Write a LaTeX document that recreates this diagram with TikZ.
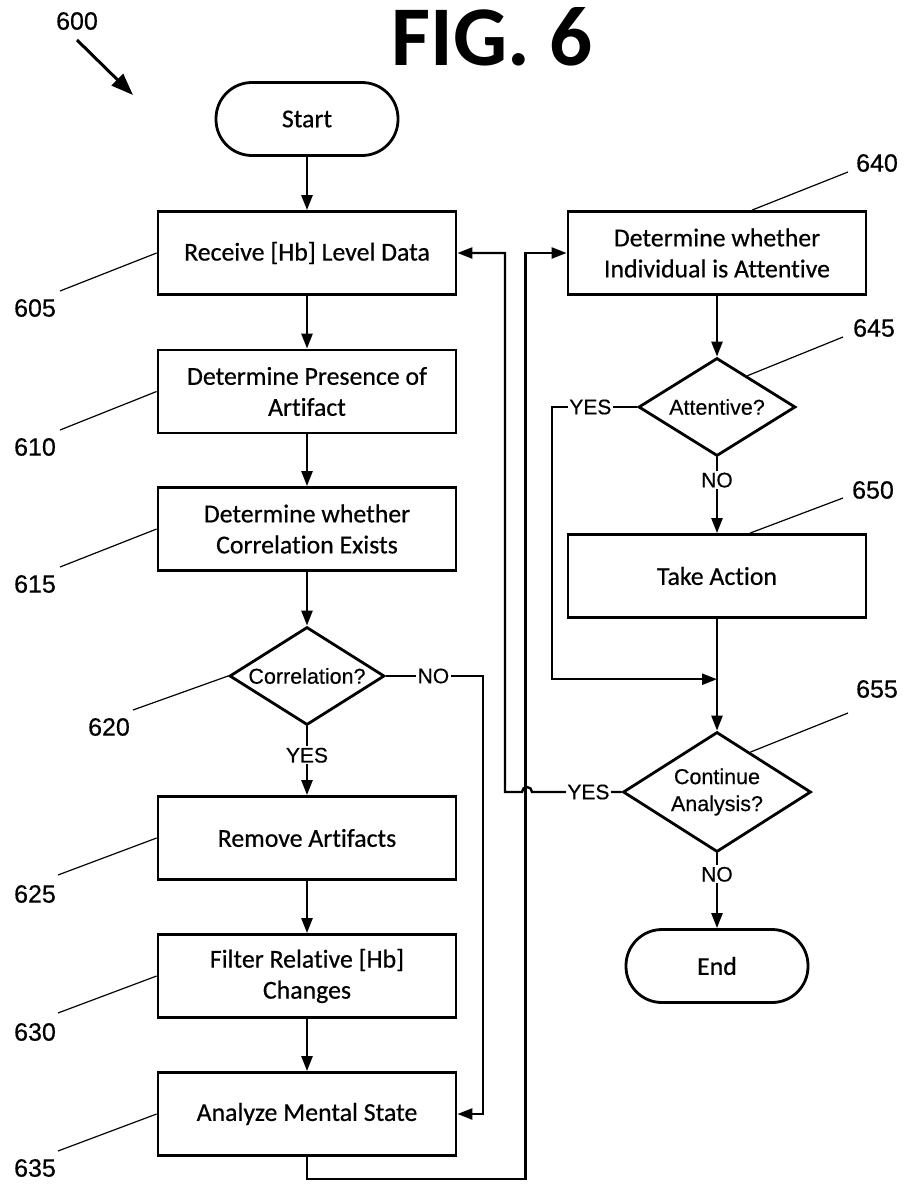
\documentclass[tikz,border=0pt]{standalone}
\usepackage{fontspec}
\setmainfont{Carlito}[Ligatures=NoCommon,FakeBold=0.4]
\newfontfamily\boxf{Carlito}[Ligatures=NoCommon,FakeBold=0.5]
\newfontfamily\titlef{Carlito Bold}
\newfontfamily\arialf{Liberation Sans}[FakeBold=0.4]
\usetikzlibrary{shapes.geometric,arrows.meta,calc}
\begin{document}
\begin{tikzpicture}[x=1pt,y=-1pt,
  box/.style={draw,line width=2.8pt,minimum width=298pt,minimum height=83pt,inner sep=2pt,align=center,font=\boxf\fontsize{25.8}{31}\selectfont},
  term/.style={draw,line width=2.8pt,rounded corners=36pt,minimum width=182pt,minimum height=73pt,font=\boxf\fontsize{25.8}{31}\selectfont},
  dec/.style={draw,diamond,aspect=1.6,line width=2.8pt,inner sep=0pt,align=center,font=\arialf\fontsize{21.5}{27}\selectfont},
  flow/.style={line width=2.4pt,-{Triangle[length=15pt,width=11pt]}},
  conn/.style={line width=2.4pt},
  lbl/.style={fill=white,inner sep=1.5pt,font=\arialf\fontsize{21}{22}\selectfont},
  refnum/.style={font=\arialf\fontsize{25}{26}\selectfont},
  leader/.style={line width=1.2pt},
]
\fill[white] (0,0) rectangle (904,1184);
\useasboundingbox (0,0) rectangle (904,1184);

% title
\node[font=\titlef\fontsize{85}{90}\selectfont,anchor=base,inner sep=0pt] (title) at (492,65) {FIG. 6};

% left column
\node[term] (start) at (307,119) {Start};
\node[box] (b605) at (307,253) {Receive [Hb] Level Data};
\node[box] (b610) at (307,391.5) {Determine Presence of\\Artifact};
\node[box] (b615) at (307,529) {Determine whether\\Correlation Exists};
\node[dec,minimum width=155pt,minimum height=98pt] (d620) at (307,676) {Correlation?};
\node[box] (b625) at (307,838) {Remove Artifacts};
\node[box] (b630) at (307,976) {Filter Relative [Hb]\\Changes};
\node[box] (b635) at (307,1114) {Analyze Mental State};

% right column
\node[box] (b640) at (717,253) {Determine whether\\Individual is Attentive};
\node[dec,minimum width=157pt,minimum height=98pt] (d645) at (717,407) {Attentive?};
\node[box] (b650) at (717,576) {Take Action};
\node[dec,minimum width=188pt,minimum height=120pt] (d655) at (717,792) {Continue\\Analysis?};
\node[term] (end) at (717,966) {End};

% connectors
\draw[flow] (start) -- (b605);
\draw[flow] (b605) -- (b610);
\draw[flow] (b610) -- (b615);
\draw[flow] (b615) -- (d620);
\draw[flow] (d620) -- node[lbl,pos=0.42]{YES} (b625);
\draw[flow] (b625) -- (b630);
\draw[flow] (b630) -- (b635);
\draw[flow] (d620.east) -- node[lbl,pos=0.49]{NO} ++(97,0) |- (b635.east);
\draw[flow] (b635.south) -- ++(0,22) -| ([xshift=-41pt]b640.west) -- (b640.west);
\draw[flow] (d655.west) -- node[lbl,pos=0.37]{YES} (532,792)
  arc[start angle=0,end angle=-180,radius=5] -- (505,792) |- (b605.east);

\draw[flow] (b640) -- (d645);
\draw[flow] (d645) -- node[lbl,pos=0.3]{NO} (b650);
\coordinate (join) at ($(b650.south)!0.54!(d655.north)$);
\draw[flow] (d645.west) -- node[lbl,pos=0.55]{YES} ++(-85,0) |- (join);
\draw[flow] (b650) -- (d655);
\draw[flow] (d655) -- node[lbl,pos=0.28]{NO} (end);

% reference numerals
\node[refnum] (r600) at (77,21) {600};
\coordinate (a600s) at (77,40);
\coordinate (a600e) at (133,95);
\draw[line width=3pt,-{Triangle[length=22pt,width=16pt]}] (a600s) -- (a600e);

\node[refnum] (r605) at (35,308) {605};
\node[refnum] (r610) at (35,447) {610};
\node[refnum] (r615) at (35,584) {615};
\node[refnum] (r620) at (109,727) {620};
\node[refnum] (r625) at (35,894) {625};
\node[refnum] (r630) at (35,1032) {630};
\node[refnum] (r635) at (35,1168) {635};
\node[refnum] (r640) at (877,163) {640};
\node[refnum] (r645) at (874,328) {645};
\node[refnum] (r650) at (873,490) {650};
\node[refnum] (r655) at (877,689) {655};

\coordinate (l605) at (60,291);
\coordinate (l610) at (60,430);
\coordinate (l615) at (60,567);
\coordinate (l620) at (133,710);
\coordinate (l625) at (58,875);
\coordinate (l630) at (58,1013);
\coordinate (l635) at (58,1151);
\coordinate (l640) at (848,172);
\coordinate (l645) at (843,337);
\coordinate (l650) at (843,498);
\coordinate (l655) at (848,713);

\draw[leader] (l605) -- (b605.west);
\draw[leader] (l610) -- (b610.west);
\draw[leader] (l615) -- (b615.west);
\draw[leader] (l620) -- (d620.west);
\draw[leader] (l625) -- (b625.west);
\draw[leader] (l630) -- (b630.west);
\draw[leader] (l635) -- (b635.west);
\draw[leader] (l640) -- ([xshift=35pt]b640.north);
\draw[leader] (l645) -- ($(d645.north)!0.38!(d645.east)$);
\draw[leader] (l650) -- ([xshift=33pt]b650.north);
\draw[leader] (l655) -- ($(d655.north)!0.35!(d655.east)$);
\end{tikzpicture}
\end{document}
